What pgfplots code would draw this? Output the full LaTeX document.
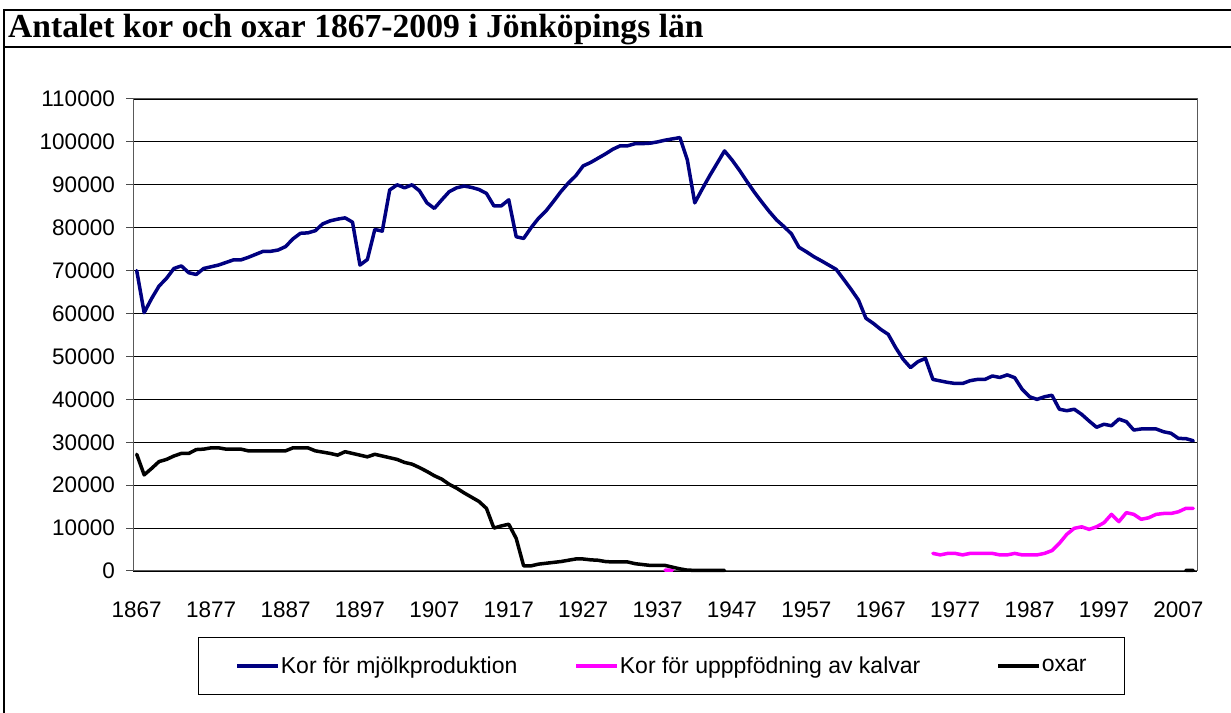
\documentclass[border=0pt]{standalone}
\usepackage{fontspec}
\setmainfont{Liberation Sans}
\newfontfamily\titlefont{Liberation Serif}
\usepackage{pgfplots}
\pgfplotsset{compat=1.18}
\definecolor{navy}{RGB}{0,0,128}
\definecolor{magenta}{RGB}{255,0,255}
\begin{document}
\begin{tikzpicture}[x=1bp,y=1bp]
\useasboundingbox (0,0) rectangle (1231,713);
\fill[white] (0,0) rectangle (1231,713);
\draw[line width=2bp] (4,-5) -- (4,703) -- (1240,703);
\draw[line width=2bp] (4,666) -- (1240,666);
\node[anchor=base west, inner sep=0pt, font=\titlefont\bfseries\fontsize{33.6bp}{37bp}\selectfont] at (8,675) {Antalet kor och oxar 1867-2009 i Jönköpings län};
\begin{axis}[
  scale only axis, width=1064bp, height=472bp,
  at={(133bp,142bp)}, anchor=south west,
  xmin=1866.5, xmax=2009.5, ymin=0, ymax=110000,
  xtick={1867,1877,...,2007}, ytick={0,10000,...,110000},
  ymajorgrids, grid style={black, line width=0.8bp},
  major tick length=7bp, tick align=outside,
  xtick style={draw=none}, ytick style={gray!60!black, line width=1bp},
  ytick pos=left, xtick pos=bottom,
  ticklabel style={font=\fontsize{22.5bp}{27bp}\selectfont},
  /pgf/number format/assume math mode=true,
  /pgf/number format/fixed,
  /pgf/number format/precision=0,
  /pgf/number format/1000 sep={},
  scaled y ticks=false, scaled x ticks=false,
  axis line style={gray!70!black, line width=1bp},
  xticklabel style={anchor=north, inner sep=0pt, yshift=-24bp},
  yticklabel style={anchor=east, inner sep=0pt, xshift=-11bp},
  clip=false,
  unbounded coords=jump,
  every axis plot/.append style={line width=3.5bp, line join=round, line cap=round},
  legend columns=3,
  legend image code/.code={\draw[#1, line cap=butt] (0bp,0bp) -- (41bp,0bp);},
  legend style={at={(0.0611,-0.1398)}, anchor=north west, draw=black, line width=0.8bp,
    inner xsep=37bp, inner ysep=18.5bp,
    font=\fontsize{23bp}{27bp}\selectfont,
    nodes={inner sep=1bp}},
]
\addplot[navy] coordinates {
(1867,70000)(1868,60200)(1869,63500)(1870,66400)(1871,68200)(1872,70500)(1873,71100)(1874,69500)(1875,69100)(1876,70500)
(1877,70900)(1878,71300)(1879,71900)(1880,72500)(1881,72500)(1882,73100)(1883,73800)(1884,74500)(1885,74500)(1886,74800)
(1887,75600)(1888,77400)(1889,78700)(1890,78800)(1891,79300)(1892,80900)(1893,81600)(1894,82000)(1895,82300)(1896,81300)
(1897,71300)(1898,72600)(1899,79600)(1900,79200)(1901,88800)(1902,90000)(1903,89300)(1904,90000)(1905,88600)(1906,85800)
(1907,84500)(1908,86500)(1909,88400)(1910,89300)(1911,89700)(1912,89400)(1913,88900)(1914,88000)(1915,85100)(1916,85100)
(1917,86500)(1918,77900)(1919,77500)(1920,80000)(1921,82200)(1922,83900)(1923,86100)(1924,88400)(1925,90400)(1926,92100)
(1927,94400)(1928,95200)(1929,96200)(1930,97200)(1931,98300)(1932,99100)(1933,99100)(1934,99600)(1935,99600)(1936,99700)
(1937,100000)(1938,100400)(1939,100700)(1940,101000)(1941,95800)(1942,85800)(1943,89000)(1944,92100)(1945,95000)(1946,97900)
(1947,95800)(1948,93400)(1949,90800)(1950,88300)(1951,86000)(1952,83800)(1953,81800)(1954,80250)(1955,78550)(1956,75450)
(1957,74400)(1958,73250)(1959,72300)(1960,71300)(1961,70300)(1962,68000)(1963,65650)(1964,63150)(1965,58900)(1966,57700)
(1967,56300)(1968,55150)(1969,52050)(1970,49350)(1971,47400)(1972,48800)(1973,49550)(1974,44650)(1975,44300)(1976,43950)
(1977,43700)(1978,43700)(1979,44350)(1980,44650)(1981,44650)(1982,45450)(1983,45100)(1984,45700)(1985,45050)(1986,42350)
(1987,40600)(1988,40000)(1989,40600)(1990,40950)(1991,37700)(1992,37350)(1993,37700)(1994,36500)(1995,34950)(1996,33500)
(1997,34200)(1998,33850)(1999,35400)(2000,34800)(2001,32850)(2002,33100)(2003,33100)(2004,33100)(2005,32450)(2006,32100)
(2007,30900)(2008,30850)(2009,30350)
};
\addlegendentry{Kor för mjölkproduktion\hspace*{56bp}}
\addplot[magenta] coordinates {
(1938,200)(1939,200)(1940,nan)
(1974,4100)(1975,3750)(1976,4100)(1977,4100)(1978,3750)(1979,4100)(1980,4100)(1981,4100)(1982,4100)(1983,3750)
(1984,3750)(1985,4100)(1986,3750)(1987,3750)(1988,3750)(1989,4100)(1990,4750)(1991,6450)(1992,8550)(1993,9950)
(1994,10300)(1995,9700)(1996,10300)(1997,11250)(1998,13200)(1999,11500)(2000,13600)(2001,13200)(2002,12050)(2003,12400)
(2004,13200)(2005,13400)(2006,13400)(2007,13800)(2008,14600)(2009,14600)
};
\addlegendentry{Kor för upppfödning av kalvar\hspace*{75bp}}
\addplot[black] coordinates {
(1867,27200)(1868,22400)(1869,23900)(1870,25500)(1871,26000)(1872,26800)(1873,27400)(1874,27400)(1875,28300)(1876,28400)
(1877,28700)(1878,28700)(1879,28400)(1880,28400)(1881,28400)(1882,28000)(1883,28000)(1884,28000)(1885,28000)(1886,28000)
(1887,28000)(1888,28700)(1889,28700)(1890,28700)(1891,28000)(1892,27700)(1893,27400)(1894,27000)(1895,27800)(1896,27400)
(1897,27000)(1898,26600)(1899,27200)(1900,26800)(1901,26400)(1902,26000)(1903,25300)(1904,24900)(1905,24100)(1906,23200)
(1907,22200)(1908,21400)(1909,20200)(1910,19300)(1911,18200)(1912,17200)(1913,16200)(1914,14600)(1915,10000)(1916,10500)
(1917,10900)(1918,7600)(1919,1200)(1920,1200)(1921,1600)(1922,1800)(1923,2000)(1924,2200)(1925,2500)(1926,2800)
(1927,2800)(1928,2600)(1929,2500)(1930,2200)(1931,2100)(1932,2100)(1933,2100)(1934,1700)(1935,1500)(1936,1300)
(1937,1300)(1938,1300)(1939,900)(1940,500)(1941,200)(1942,150)(1943,150)(1944,150)(1945,150)(1946,150)(1947,nan)
(2008,150)(2009,150)
};
\addlegendentry{oxar}
\end{axis}
\end{tikzpicture}
\end{document}
